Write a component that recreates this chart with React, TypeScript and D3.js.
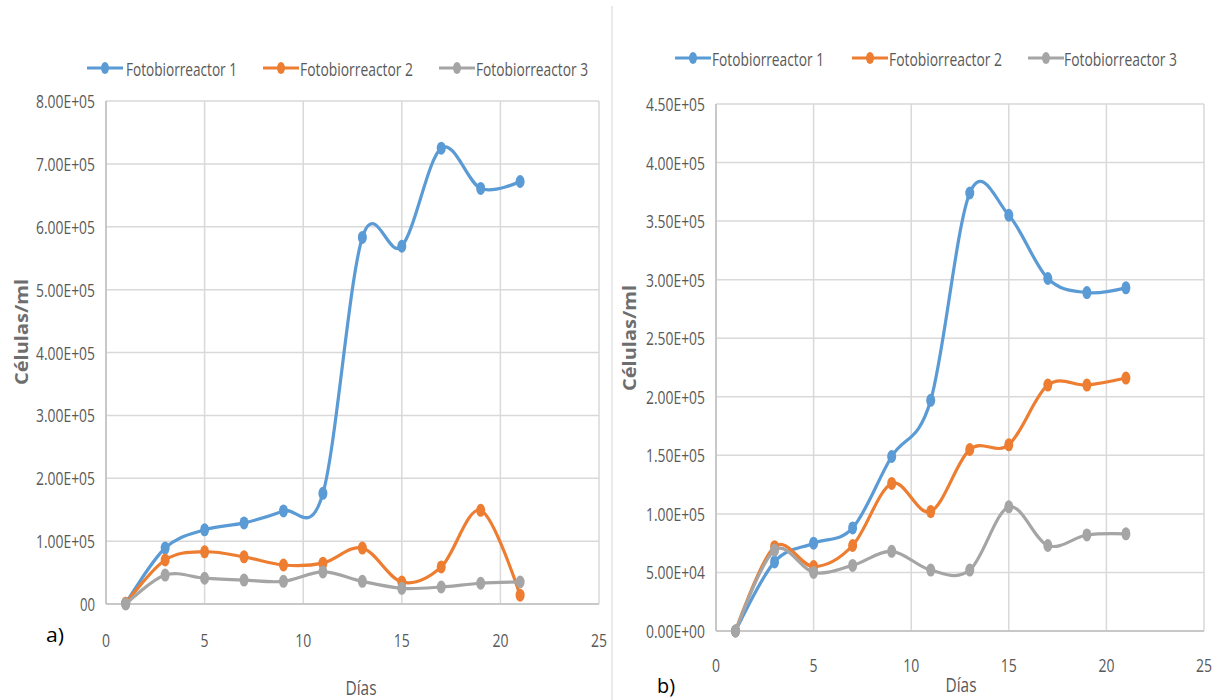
import React from "react";
import * as d3 from "d3";

// Sampling days (x values)
const DAYS = [1, 3, 5, 7, 9, 11, 13, 15, 17, 19, 21];

// Panel a) cell densities (cells/ml)
const A_FB1 = [1000, 89000, 118000, 129000, 148000, 176000, 583000, 569000, 725000, 661000, 672000];
const A_FB2 = [1000, 70000, 83000, 75000, 62000, 65000, 89000, 35000, 59000, 149000, 14000];
const A_FB3 = [0, 46000, 41000, 38000, 36000, 51000, 36000, 25000, 27000, 33000, 35000];

// Panel b) cell densities (cells/ml)
const B_FB1 = [0, 59000, 75000, 88000, 149000, 197000, 374000, 355000, 301000, 289000, 293000];
const B_FB2 = [0, 72000, 55000, 73000, 126000, 102000, 155000, 159000, 210000, 210000, 216000];
const B_FB3 = [0, 69000, 50000, 56000, 68000, 52000, 52000, 106000, 73000, 82000, 83000];

const SERIES_NAMES = ["Fotobiorreactor 1", "Fotobiorreactor 2", "Fotobiorreactor 3"];
const COLORS = ["#5B9BD5", "#ED7D31", "#A5A5A5"];

const X_TICKS = [0, 5, 10, 15, 20, 25];
const X_TICK_LABELS = ["0", "5", "10", "15", "20", "25"];

const A_Y_TICKS = [0, 100000, 200000, 300000, 400000, 500000, 600000, 700000, 800000];
const A_Y_TICK_LABELS = ["00", "1.00E+05", "2.00E+05", "3.00E+05", "4.00E+05", "5.00E+05", "6.00E+05", "7.00E+05", "8.00E+05"];

const B_Y_TICKS = [0, 50000, 100000, 150000, 200000, 250000, 300000, 350000, 400000, 450000];
const B_Y_TICK_LABELS = ["0.00E+00", "5.00E+04", "1.00E+05", "1.50E+05", "2.00E+05", "2.50E+05", "3.00E+05", "3.50E+05", "4.00E+05", "4.50E+05"];

const FONT = "'Liberation Sans Narrow', 'Open Sans', Arial, sans-serif";
const TEXT = "#595959";
const GRID = "#D9D9D9";

type PanelProps = {
  series: number[][];
  yMax: number;
  yTicks: number[];
  yTickLabels: string[];
  xRange: [number, number];
  yRange: [number, number];
  legendY: number;
  legendItems: { lineX: number; textX: number; textW: number }[];
  yTitle: { x: number; y: number };
  xTitle: { x: number; y: number };
  xTickY: number;
  panelLabel: { text: string; x: number; y: number };
};

function Panel(p: PanelProps) {
  const x = d3.scaleLinear().domain([0, 25]).range(p.xRange);
  const y = d3.scaleLinear().domain([0, p.yMax]).range(p.yRange);
  const line = d3
    .line<number>()
    .x((_, i) => x(DAYS[i]))
    .y((v) => y(v))
    .curve(d3.curveCatmullRom.alpha(0));

  const [x0, x1] = p.xRange;
  const [yb, yt] = p.yRange;

  return (
    <g>
      {/* gridlines */}
      {p.yTicks.map((t) => (
        <line key={"gy" + t} x1={x0} x2={x1} y1={y(t)} y2={y(t)} stroke={GRID} strokeWidth={1.5} />
      ))}
      {X_TICKS.map((t) => (
        <line key={"gx" + t} x1={x(t)} x2={x(t)} y1={yt} y2={yb} stroke={GRID} strokeWidth={1.5} />
      ))}
      {/* axes */}
      <line x1={x0} x2={x1} y1={yb} y2={yb} stroke="#BFBFBF" strokeWidth={1.5} />
      <line x1={x0} x2={x0} y1={yt} y2={yb} stroke="#BFBFBF" strokeWidth={1.5} />

      {/* y tick labels */}
      {p.yTicks.map((t, i) => {
        const lbl = p.yTickLabels[i];
        const w = lbl.length <= 2 ? 15 : 59;
        return (
          <text
            key={"yl" + t}
            x={x0 - 11}
            y={y(t)}
            textAnchor="end"
            dominantBaseline="central"
            fontFamily={FONT}
            fontSize={17.5}
            fill={TEXT}
            textLength={w}
            lengthAdjust="spacingAndGlyphs"
          >
            {lbl}
          </text>
        );
      })}

      {/* x tick labels */}
      {X_TICKS.map((t, i) => {
        const lbl = X_TICK_LABELS[i];
        return (
          <text
            key={"xl" + t}
            x={x(t)}
            y={p.xTickY}
            textAnchor="middle"
            dominantBaseline="central"
            fontFamily={FONT}
            fontSize={17.5}
            fill={TEXT}
            textLength={lbl.length * 8}
            lengthAdjust="spacingAndGlyphs"
          >
            {lbl}
          </text>
        );
      })}

      {/* series */}
      {p.series.map((vals, si) => (
        <g key={"s" + si}>
          <path d={line(vals) || ""} fill="none" stroke={COLORS[si]} strokeWidth={3.2} strokeLinejoin="round" />
          {vals.map((v, i) => (
            <ellipse key={i} cx={x(DAYS[i])} cy={y(v)} rx={4.5} ry={6.5} fill={COLORS[si]} />
          ))}
        </g>
      ))}

      {/* legend */}
      {p.legendItems.map((it, i) => (
        <g key={"lg" + i}>
          <line x1={it.lineX} x2={it.lineX + 36} y1={p.legendY} y2={p.legendY} stroke={COLORS[i]} strokeWidth={3.2} />
          <ellipse cx={it.lineX + 18} cy={p.legendY} rx={4} ry={6} fill={COLORS[i]} />
          <text
            x={it.textX}
            y={p.legendY}
            dominantBaseline="central"
            fontFamily={FONT}
            fontSize={18.5}
            fill={TEXT}
            textLength={it.textW}
            lengthAdjust="spacingAndGlyphs"
          >
            {SERIES_NAMES[i]}
          </text>
        </g>
      ))}

      {/* axis titles */}
      <text
        transform={`translate(${p.yTitle.x},${p.yTitle.y}) rotate(-90)`}
        textAnchor="middle"
        dominantBaseline="central"
        fontFamily="'Open Sans', Arial, sans-serif"
        fontWeight="bold"
        fontSize={18}
        fill="#6E6E6E"
        textLength={106}
        lengthAdjust="spacingAndGlyphs"
      >
        Células/ml
      </text>
      <text
        x={p.xTitle.x}
        y={p.xTitle.y}
        textAnchor="middle"
        dominantBaseline="central"
        fontFamily={FONT}
        fontSize={20}
        fill={TEXT}
        textLength={31}
        lengthAdjust="spacingAndGlyphs"
      >
        Días
      </text>
      <text
        x={p.panelLabel.x}
        y={p.panelLabel.y}
        textAnchor="middle"
        dominantBaseline="central"
        fontFamily={FONT}
        fontSize={20}
        fill="#000"
        textLength={18}
        lengthAdjust="spacingAndGlyphs"
      >
        {p.panelLabel.text}
      </text>
    </g>
  );
}

export default function App() {
  return (
    <svg width={1221} height={700} style={{ position: "absolute", left: 0, top: 0, background: "#fff" }}>
      <rect width={1221} height={700} fill="#fff" />
      <line x1={612} x2={612} y1={6} y2={700} stroke="#E3E3E3" strokeWidth={1.5} />
      <Panel
        series={[A_FB1, A_FB2, A_FB3]}
        yMax={800000}
        yTicks={A_Y_TICKS}
        yTickLabels={A_Y_TICK_LABELS}
        xRange={[106, 599]}
        yRange={[604, 101]}
        legendY={68}
        legendItems={[
          { lineX: 87, textX: 126, textW: 111 },
          { lineX: 263, textX: 300, textW: 113 },
          { lineX: 439, textX: 476, textW: 112 },
        ]}
        yTitle={{ x: 21, y: 332 }}
        xTitle={{ x: 361, y: 687 }}
        xTickY={640}
        panelLabel={{ text: "a)", x: 55, y: 634 }}
      />
      <Panel
        series={[B_FB1, B_FB2, B_FB3]}
        yMax={450000}
        yTicks={B_Y_TICKS}
        yTickLabels={B_Y_TICK_LABELS}
        xRange={[716, 1204]}
        yRange={[631, 104]}
        legendY={58}
        legendItems={[
          { lineX: 675, textX: 712, textW: 112 },
          { lineX: 852, textX: 889, textW: 113 },
          { lineX: 1028, textX: 1064, textW: 113 },
        ]}
        yTitle={{ x: 629, y: 338 }}
        xTitle={{ x: 961, y: 684 }}
        xTickY={665}
        panelLabel={{ text: "b)", x: 666, y: 685 }}
      />
    </svg>
  );
}
